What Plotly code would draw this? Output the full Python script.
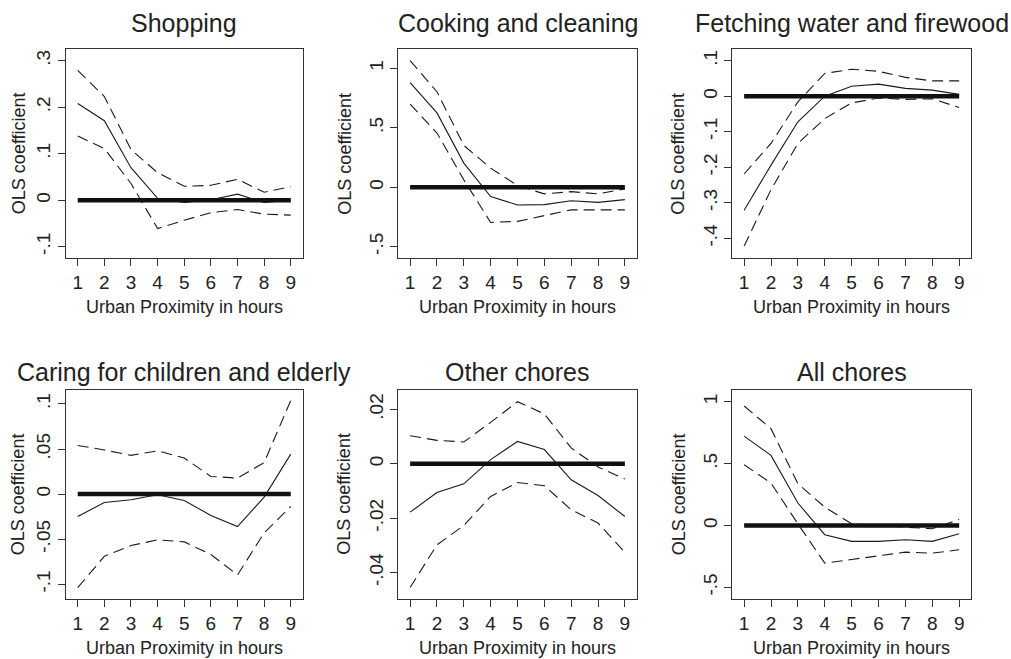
import plotly.graph_objects as go

hours = [1, 2, 3, 4, 5, 6, 7, 8, 9]

panel_titles = ["Shopping", "Cooking and cleaning", "Fetching water and firewood",
                "Caring for children and elderly", "Other chores", "All chores"]

shopping_coef = [0.208, 0.171, 0.070, 0.004, -0.005, 0.001, 0.013, -0.005, 0.000]
shopping_hi = [0.279, 0.223, 0.109, 0.059, 0.030, 0.032, 0.045, 0.017, 0.029]
shopping_lo = [0.138, 0.111, 0.036, -0.061, -0.043, -0.027, -0.020, -0.030, -0.032]

cooking_coef = [0.879, 0.625, 0.203, -0.079, -0.149, -0.146, -0.113, -0.127, -0.104]
cooking_hi = [1.065, 0.803, 0.352, 0.161, 0.014, -0.056, -0.037, -0.056, -0.014]
cooking_lo = [0.699, 0.456, 0.062, -0.296, -0.287, -0.239, -0.190, -0.190, -0.190]

fetching_coef = [-0.321, -0.194, -0.072, 0.000, 0.028, 0.034, 0.022, 0.017, 0.005]
fetching_hi = [-0.219, -0.133, -0.016, 0.064, 0.076, 0.070, 0.053, 0.043, 0.043]
fetching_lo = [-0.422, -0.263, -0.133, -0.063, -0.019, -0.005, -0.009, -0.007, -0.032]

caring_coef = [-0.0248, -0.0093, -0.0063, -0.0007, -0.0070, -0.0237, -0.0360, -0.0033, 0.0444]
caring_hi = [0.054, 0.049, 0.043, 0.048, 0.040, 0.0196, 0.0178, 0.035, 0.104]
caring_lo = [-0.1037, -0.069, -0.057, -0.0507, -0.053, -0.067, -0.0896, -0.043, -0.0137]

other_coef = [-0.0178, -0.0106, -0.0074, 0.0015, 0.0082, 0.0052, -0.0059, -0.0117, -0.0194]
other_hi = [0.0103, 0.0086, 0.0080, 0.0152, 0.0228, 0.0183, 0.0058, -0.0012, -0.0056]
other_lo = [-0.0455, -0.0298, -0.0227, -0.0120, -0.0069, -0.0081, -0.0169, -0.0218, -0.0326]

all_coef = [0.722, 0.566, 0.181, -0.075, -0.129, -0.129, -0.116, -0.129, -0.067]
all_hi = [0.965, 0.782, 0.337, 0.148, 0.013, 0.000, -0.013, -0.027, 0.049]
all_lo = [0.491, 0.342, 0.013, -0.305, -0.275, -0.248, -0.216, -0.224, -0.197]

zero_line = [0, 0, 0, 0, 0, 0, 0, 0, 0]

ytick_vals = [
    [0.3, 0.2, 0.1, 0, -0.1],
    [1, 0.5, 0, -0.5],
    [0.1, 0, -0.1, -0.2, -0.3, -0.4],
    [0.1, 0.05, 0, -0.05, -0.1],
    [0.02, 0, -0.02, -0.04],
    [1, 0.5, 0, -0.5],
]
ytick_text = [
    [".3", ".2", ".1", "0", "-.1"],
    ["1", ".5", "0", "-.5"],
    [".1", "0", "-.1", "-.2", "-.3", "-.4"],
    [".1", ".05", "0", "-.05", "-.1"],
    [".02", "0", "-.02", "-.04"],
    ["1", ".5", "0", "-.5"],
]
y_ranges = [
    [-0.1243, 0.3245],
    [-0.595, 1.16],
    [-0.4555, 0.132],
    [-0.116, 0.1155],
    [-0.0496, 0.0271],
    [-0.592, 1.0945],
]

panels = [
    (shopping_coef, shopping_hi, shopping_lo),
    (cooking_coef, cooking_hi, cooking_lo),
    (fetching_coef, fetching_hi, fetching_lo),
    (caring_coef, caring_hi, caring_lo),
    (other_coef, other_hi, other_lo),
    (all_coef, all_hi, all_lo),
]

W, H = 1011, 659
col_px = [(66, 302.5), (398.3, 636.7), (732.3, 971)]
row_px = [(49.3, 258), (390, 598.7)]
ytitle_x = [[18.5, 345, 678], [18, 344.5, 679]]
title_y = [23, 372]
xtitle_y = [307, 648]

FONT = "Liberation Sans, Arial, Helvetica, sans-serif"
TXT = "#222222"

fig = go.Figure()
layout = dict(
    width=W, height=H, margin=dict(l=0, r=0, t=0, b=0),
    paper_bgcolor="white", plot_bgcolor="white", showlegend=False,
    font=dict(family=FONT, color=TXT),
)
annotations = []

for i, (coef, hi, lo) in enumerate(panels):
    r, c = divmod(i, 3)
    n = "" if i == 0 else str(i + 1)
    xa, ya = "x" + n, "y" + n
    x0, x1 = col_px[c]
    y0, y1 = row_px[r]
    layout["xaxis" + n] = dict(
        domain=[x0 / W, x1 / W], anchor=ya, range=[0.56, 9.44],
        tickvals=hours, ticktext=[str(h) for h in hours],
        showline=True, mirror=True, linecolor="#333333", linewidth=1.3,
        ticks="outside", ticklen=7, tickcolor="#333333", tickwidth=1.2,
        showgrid=False, zeroline=False,
        tickfont=dict(size=19, family=FONT, color=TXT),
    )
    layout["yaxis" + n] = dict(
        domain=[1 - y1 / H, 1 - y0 / H], anchor=xa, range=y_ranges[i],
        tickvals=ytick_vals[i], ticktext=ytick_text[i], tickangle=-90,
        showline=True, mirror=True, linecolor="#333333", linewidth=1.3,
        ticks="outside", ticklen=7, tickcolor="#333333", tickwidth=1.2,
        showgrid=False, zeroline=False,
        tickfont=dict(size=19, family=FONT, color=TXT),
    )
    for series, dash in ((hi, "11px,6px"), (lo, "11px,6px"), (coef, "solid")):
        fig.add_trace(go.Scatter(x=hours, y=series, xaxis=xa, yaxis=ya, mode="lines",
                                 line=dict(color="#1a1a1a", width=1.1, dash=dash),
                                 hoverinfo="skip"))
    fig.add_trace(go.Scatter(x=hours, y=zero_line, xaxis=xa, yaxis=ya, mode="lines",
                             line=dict(color="#111111", width=4.5), hoverinfo="skip"))

    cx = (x0 + x1) / 2
    annotations.append(dict(text=panel_titles[i], x=cx / W, y=1 - title_y[r] / H,
                            xref="paper", yref="paper", showarrow=False,
                            xanchor="center", yanchor="middle",
                            font=dict(size=25, family=FONT, color=TXT)))
    annotations.append(dict(text="Urban Proximity in hours", x=cx / W, y=1 - xtitle_y[r] / H,
                            xref="paper", yref="paper", showarrow=False,
                            xanchor="center", yanchor="middle",
                            font=dict(size=18, family=FONT, color=TXT)))
    annotations.append(dict(text="OLS coefficient", x=ytitle_x[r][c] / W,
                            y=1 - ((y0 + y1) / 2) / H,
                            xref="paper", yref="paper", showarrow=False, textangle=-90,
                            xanchor="center", yanchor="middle",
                            font=dict(size=18, family=FONT, color=TXT)))

layout["annotations"] = annotations
fig.update_layout(**layout)
fig.write_html("out.html")
